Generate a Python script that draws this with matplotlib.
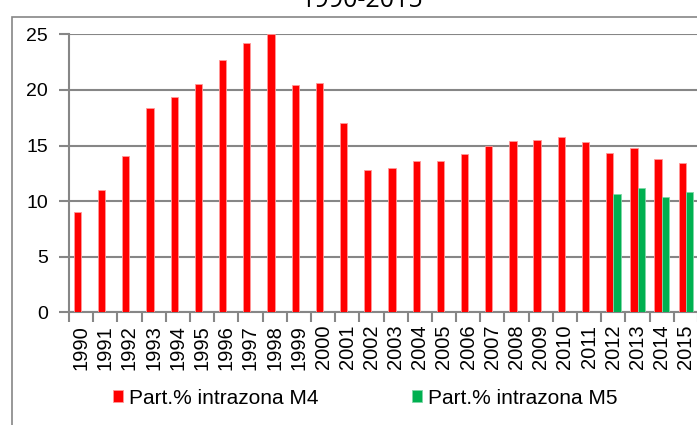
import numpy as np
import matplotlib.pyplot as plt
from matplotlib.patches import Rectangle

# data
years = [str(y) for y in range(1990, 2016)]
m4 = [9.0, 11.0, 14.1, 18.4, 19.4, 20.5, 22.7, 24.2, 25.0, 20.4,
      20.6, 17.0, 12.8, 13.0, 13.6, 13.6, 14.2, 15.0, 15.4, 15.5,
      15.8, 15.3, 14.3, 14.8, 13.8, 13.4]
m5_years = ["2012", "2013", "2014", "2015"]
m5 = [10.6, 11.2, 10.4, 10.8]
labels = ["Part.% intrazona M4", "Part.% intrazona M5"]
title = "1990-2015"

plt.rcParams["font.family"] = ["Liberation Sans", "DejaVu Sans"]

fig = plt.figure(figsize=(6.97, 4.25), dpi=100)
ax = fig.add_axes([69 / 697, 1 - 312.3 / 425, 629 / 697, (312.3 - 34.3) / 425])

x = np.arange(len(years))
w = 0.3
x5 = np.array([years.index(y) for y in m5_years])

b1 = ax.bar(x - w / 2, m4, w, color="#FF0000", edgecolor="#FF9999", linewidth=0.6,
            label=labels[0], zorder=3)
b2 = ax.bar(x5 + w / 2, m5, w, color="#00B050", edgecolor="#80D8A8", linewidth=0.6,
            label=labels[1], zorder=3)

ax.set_xlim(-0.5, len(years) - 0.5)
ax.set_ylim(0, 25)
ax.set_yticks(range(0, 26, 5))
ax.tick_params(axis="y", labelsize=14, length=7, width=1.5, color="#868686", pad=8)
ax.yaxis.grid(True, color="#868686", linewidth=1.5, zorder=0)

ax.set_xticks(x)
ax.set_xticklabels(years, rotation=90, fontsize=14.5)
ax.set_xticks(np.arange(-0.5, len(years)), minor=True)
ax.tick_params(axis="x", which="major", length=0, pad=9)
ax.tick_params(axis="x", which="minor", length=7, width=1.5, color="#868686")

for s in ["top", "right"]:
    ax.spines[s].set_visible(False)
for s in ["left", "bottom"]:
    ax.spines[s].set_color("#868686")
    ax.spines[s].set_linewidth(1.5)
ax.set_axisbelow(True)

# outer chart border (cut by the image edge)
fig.patches.append(Rectangle((12 / 697, -0.1), 1.2, 1.1 - 17 / 425, transform=fig.transFigure,
                             fill=False, edgecolor="#868686", linewidth=1.2))

fig.text(362 / 697, 1 - 7 / 425, title, ha="center", va="baseline", fontsize=18,
         family=["Open Sans", "DejaVu Sans"])

fig.legend(handles=[b1, b2], labels=labels, loc="center", bbox_to_anchor=(365 / 697, 1 - 398 / 425),
           ncol=2, frameon=False, fontsize=15, handlelength=0.5, handleheight=0.5,
           handletextpad=0.25, columnspacing=4.5, borderpad=0)

fig.savefig("out.png", dpi=100)
